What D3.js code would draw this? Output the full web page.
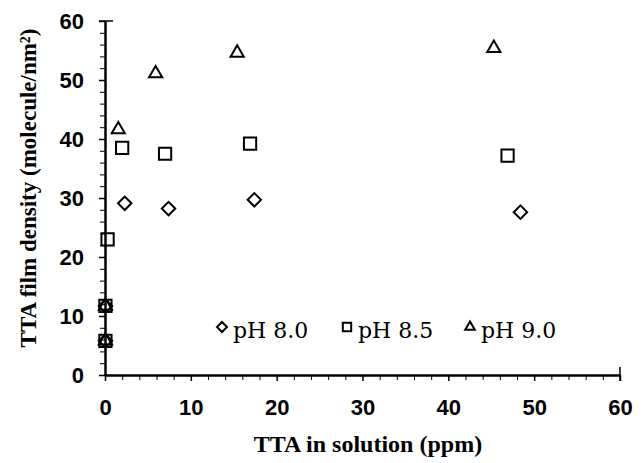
<!DOCTYPE html>
<html>
<head>
<meta charset="utf-8">
<script src="https://cdn.jsdelivr.net/npm/d3@7"></script>
<style>
  body { margin: 0; background: #fff; }
  svg { display: block; }
</style>
</head>
<body>
<div id="chart"></div>
<script>
// data
const ph80X = [0.05, 0.05, 2.3, 7.4, 17.4, 48.4];
const ph80Y = [11.7, 5.8, 29.1, 28.2, 29.7, 27.6];

const ph85X = [0.05, 0.05, 0.3, 2.0, 7.0, 16.9, 46.9];
const ph85Y = [11.7, 5.8, 23.0, 38.5, 37.5, 39.2, 37.2];

const ph90X = [0.05, 0.05, 1.55, 5.9, 15.4, 45.3];
const ph90Y = [11.7, 5.8, 41.6, 51.1, 54.6, 55.4];

const seriesNames = ['pH 8.0', 'pH 8.5', 'pH 9.0'];
const xTicks = [0, 10, 20, 30, 40, 50, 60];
const yTicks = [0, 10, 20, 30, 40, 50, 60];

// set the dimensions and margins of the graph
const margin = { top: 21, right: 23, bottom: 88, left: 105 },
  width = 643 - margin.left - margin.right,
  height = 463 - margin.top - margin.bottom;

const svg = d3.select('#chart')
  .append('svg')
  .attr('width', 643)
  .attr('height', 463);

const g = svg.append('g')
  .attr('transform', `translate(${margin.left}, ${margin.top})`);

const x = d3.scaleLinear().domain([0, 60]).range([0, width]);
const y = d3.scaleLinear().domain([0, 60]).range([height, 0]);

const tickFont = '"Liberation Sans", Arial, sans-serif';
const titleFont = '"Liberation Serif", "Times New Roman", serif';

// minor ticks every 2
const minor = d3.range(0, 61, 2).filter(v => v % 10 !== 0);

g.append('g')
  .attr('transform', `translate(0, ${height})`)
  .call(d3.axisBottom(x).tickValues(minor).tickSize(5).tickFormat(''))
  .call(a => a.select('.domain').remove());

g.append('g')
  .call(d3.axisLeft(y).tickValues(minor).tickSize(5).tickFormat(''))
  .call(a => a.select('.domain').remove());

// x axis
const xAxis = g.append('g')
  .attr('transform', `translate(0, ${height})`)
  .call(d3.axisBottom(x).tickValues(xTicks).tickSizeInner(6).tickSizeOuter(0).tickPadding(18));
xAxis.select('.domain').attr('stroke-width', 2.5);
xAxis.selectAll('.tick line').attr('stroke-width', 1.5);
xAxis.selectAll('.tick text')
  .style('font-family', tickFont)
  .style('font-weight', 'bold')
  .style('font-size', '22px')
  .attr('fill', '#000');

// y axis
const yAxis = g.append('g')
  .call(d3.axisLeft(y).tickValues(yTicks).tickSizeInner(6).tickSizeOuter(0).tickPadding(15));
yAxis.select('.domain').attr('stroke-width', 2.5);
yAxis.selectAll('.tick line').attr('stroke-width', 1.5);
yAxis.selectAll('.tick text')
  .style('font-family', tickFont)
  .style('font-weight', 'bold')
  .style('font-size', '22px')
  .attr('fill', '#000');

g.selectAll('.tick line').attr('stroke', '#000');
g.selectAll('.domain').attr('stroke', '#000');

// right / top caps
g.append('line')
  .attr('x1', x(60)).attr('x2', x(60))
  .attr('y1', y(0) - 8).attr('y2', y(0) + 6)
  .attr('stroke', '#000').attr('stroke-width', 1.5);
g.append('line')
  .attr('x1', x(0) - 6).attr('x2', x(0) + 8)
  .attr('y1', y(60)).attr('y2', y(60))
  .attr('stroke', '#000').attr('stroke-width', 1.5);

// axis titles
svg.append('text')
  .attr('x', 368)
  .attr('y', 452)
  .attr('text-anchor', 'middle')
  .style('font-family', titleFont)
  .style('font-weight', 'bold')
  .style('font-size', '24px')
  .text('TTA in solution (ppm)');

svg.append('text')
  .attr('transform', 'translate(36, 188) rotate(-90)')
  .attr('text-anchor', 'middle')
  .style('font-family', titleFont)
  .style('font-weight', 'bold')
  .style('font-size', '23px')
  .text('TTA film density (molecule/nm²)');

// markers
const diamond = d3.symbol().type(d3.symbolSquare).size(90);
const square = d3.symbol().type(d3.symbolSquare).size(150);
const triangle = d3.symbol().type(d3.symbolTriangle).size(75);

function drawSeries(xs, ys, sym, rot) {
  g.append('g')
    .selectAll('path')
    .data(xs.map((v, i) => [v, ys[i]]))
    .join('path')
    .attr('d', sym)
    .attr('transform', d => `translate(${x(d[0])}, ${y(d[1])}) rotate(${rot})`)
    .attr('fill', 'none')
    .attr('stroke', '#000')
    .attr('stroke-width', 2);
}

drawSeries(ph80X, ph80Y, diamond, 45);
drawSeries(ph85X, ph85Y, square, 0);
drawSeries(ph90X, ph90Y, triangle, 0);

// legend
const legendX = [222, 347, 470];
const legendSyms = [
  d3.symbol().type(d3.symbolSquare).size(50),
  d3.symbol().type(d3.symbolSquare).size(70),
  d3.symbol().type(d3.symbolTriangle).size(40)
];
const legendRot = [45, 0, 0];

const legend = svg.append('g');
seriesNames.forEach((name, i) => {
  legend.append('path')
    .attr('d', legendSyms[i])
    .attr('transform', `translate(${legendX[i]}, 327) rotate(${legendRot[i]})`)
    .attr('fill', 'none')
    .attr('stroke', '#000')
    .attr('stroke-width', 2);
  legend.append('text')
    .attr('x', legendX[i] + 11)
    .attr('y', 338)
    .style('font-family', '"DejaVu Serif", serif')
    .style('font-size', '22px')
    .text(name);
});
</script>
</body>
</html>
